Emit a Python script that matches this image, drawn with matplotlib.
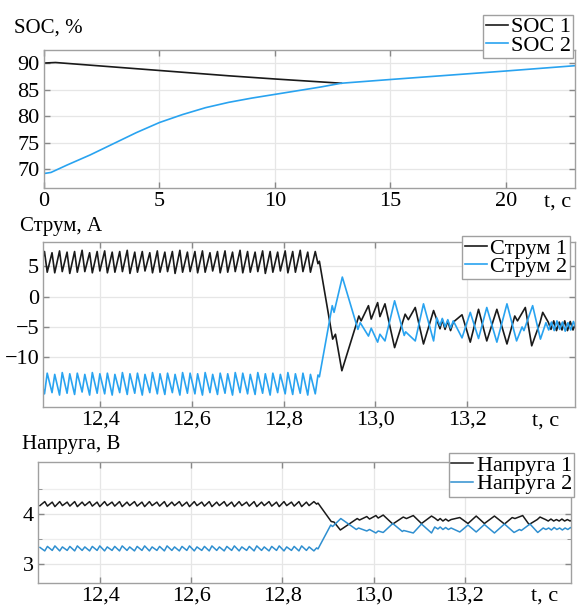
import numpy as np
import matplotlib
matplotlib.use("Agg")
import matplotlib.pyplot as plt
from matplotlib.ticker import FixedLocator, FuncFormatter

plt.rcParams['font.family'] = ['Liberation Serif', 'DejaVu Serif']

BLACK = '#1a1a1a'
BLUE = '#29a3f0'
BLUE_V = '#2f8fd0'

# ---- panel 1: SOC over the whole run ----
soc_t1 = [0.0, 0.5, 2.0, 5.0, 8.0, 10.0, 12.88]
soc_v1 = [90.0, 90.1, 89.6, 88.6, 87.6, 87.0, 86.2]
soc_t2 = [0.0, 0.3, 1.0, 2.0, 3.0, 4.0, 5.0, 6.0, 7.0, 8.0, 9.0, 10.0, 11.0, 12.0,
          12.88, 15.0, 17.5, 20.0, 23.0]
soc_v2 = [69.2, 69.4, 70.8, 72.7, 74.8, 76.9, 78.8, 80.3, 81.6, 82.6, 83.4, 84.1,
          84.8, 85.5, 86.2, 86.9, 87.7, 88.5, 89.5]

# ---- switching vertices of the steady part (shared by panels 2 and 3) ----
t_steady = [12.2681,
            12.2786, 12.2845, 12.2950, 12.3009, 12.3114, 12.3173, 12.3278, 12.3337,
            12.3442, 12.3501, 12.3606, 12.3665, 12.3770, 12.3829, 12.3934, 12.3993,
            12.4098, 12.4157, 12.4262, 12.4321, 12.4426, 12.4485, 12.4590, 12.4649,
            12.4754, 12.4813, 12.4918, 12.4977, 12.5082, 12.5141, 12.5246, 12.5305,
            12.5410, 12.5469, 12.5574, 12.5633, 12.5738, 12.5797, 12.5902, 12.5961,
            12.6066, 12.6125, 12.6230, 12.6289, 12.6394, 12.6453, 12.6558, 12.6617,
            12.6722, 12.6781, 12.6886, 12.6945, 12.7050, 12.7109, 12.7214, 12.7273,
            12.7378, 12.7437, 12.7542, 12.7601, 12.7706, 12.7765, 12.7870, 12.7929,
            12.8034, 12.8093, 12.8198, 12.8257, 12.8362, 12.8421, 12.8526, 12.8585,
            12.8690, 12.8749]

i1_steady = [4.2,
             7.4, 4.0, 7.2, 3.9, 7.5, 4.1, 7.3, 3.8, 7.4, 4.0, 7.6, 4.1, 7.2, 3.9,
             7.4, 4.2, 7.5, 3.9, 7.3, 4.0, 7.4, 4.1, 7.6, 3.8, 7.3, 4.0, 7.4, 4.2,
             7.2, 3.9, 7.5, 4.0, 7.3, 4.1, 7.4, 3.8, 7.6, 4.0, 7.3, 4.1, 7.4, 3.9,
             7.5, 4.0, 7.2, 4.2, 7.4, 3.9, 7.5, 4.0, 7.3, 4.1, 7.6, 3.9, 7.4, 4.0,
             7.3, 4.1, 7.5, 3.8, 7.4, 4.0, 7.3, 4.2, 7.5, 3.9, 7.4, 4.0, 7.6, 4.1,
             7.3, 4.0, 7.4, 5.4]
i2_steady = [-12.9,
             -16.0, -12.6, -15.8, -12.8, -16.2, -12.5, -15.9, -12.7, -16.1, -12.6,
             -15.7, -12.8, -16.2, -12.5, -15.9, -12.7, -16.0, -12.6, -16.2, -12.8,
             -15.8, -12.5, -16.1, -12.7, -15.9, -12.6, -16.2, -12.8, -15.8, -12.5,
             -16.0, -12.7, -16.1, -12.6, -15.8, -12.8, -16.2, -12.5, -15.9, -12.6,
             -16.0, -12.7, -16.2, -12.5, -15.8, -12.8, -16.1, -12.6, -15.9, -12.7,
             -16.2, -12.5, -15.8, -12.6, -16.0, -12.8, -16.1, -12.5, -15.9, -12.7,
             -16.2, -12.6, -15.8, -12.8, -16.0, -12.5, -16.1, -12.7, -15.9, -12.6,
             -16.2, -12.8, -16.0, -12.9]
u1_steady = [4.17,
             4.25, 4.16, 4.24, 4.15, 4.25, 4.17, 4.24, 4.16, 4.25, 4.15, 4.24, 4.17,
             4.25, 4.16, 4.24, 4.15, 4.25, 4.17, 4.24, 4.16, 4.25, 4.15, 4.24, 4.17,
             4.25, 4.16, 4.24, 4.15, 4.25, 4.17, 4.24, 4.16, 4.25, 4.15, 4.24, 4.17,
             4.25, 4.16, 4.24, 4.15, 4.25, 4.17, 4.24, 4.16, 4.25, 4.15, 4.24, 4.17,
             4.25, 4.16, 4.24, 4.15, 4.25, 4.17, 4.24, 4.16, 4.25, 4.15, 4.24, 4.17,
             4.25, 4.16, 4.24, 4.15, 4.25, 4.17, 4.24, 4.16, 4.25, 4.15, 4.24, 4.17,
             4.25, 4.20]
u2_steady = [3.33,
             3.26, 3.35, 3.27, 3.36, 3.26, 3.34, 3.27, 3.35, 3.26, 3.36, 3.27, 3.34,
             3.26, 3.35, 3.27, 3.36, 3.26, 3.34, 3.27, 3.35, 3.26, 3.36, 3.27, 3.34,
             3.26, 3.35, 3.27, 3.36, 3.26, 3.34, 3.27, 3.35, 3.26, 3.36, 3.27, 3.34,
             3.26, 3.35, 3.27, 3.36, 3.26, 3.34, 3.27, 3.35, 3.26, 3.36, 3.27, 3.34,
             3.26, 3.35, 3.27, 3.36, 3.26, 3.34, 3.27, 3.35, 3.26, 3.36, 3.27, 3.34,
             3.26, 3.35, 3.27, 3.36, 3.26, 3.34, 3.27, 3.35, 3.26, 3.36, 3.27, 3.34,
             3.26, 3.32]

# ---- transient after the switch-over: battery 1 ----
t_trans1 = [12.8780, 12.9070, 12.9130, 12.9270, 12.9640, 12.9690, 12.9850, 12.9910,
            13.0050, 13.0100, 13.0210, 13.0420, 13.0650, 13.0720, 13.0870, 13.1050,
            13.1270, 13.1340, 13.1410, 13.1460, 13.1520, 13.1580, 13.1640, 13.1700,
            13.1890, 13.2070, 13.2250, 13.2430, 13.2650, 13.2870, 13.3040, 13.3100,
            13.3270, 13.3410, 13.3590, 13.3650, 13.3770, 13.3830, 13.3890, 13.3950,
            13.4010, 13.4070, 13.4130, 13.4190, 13.4250, 13.4310, 13.4370]
i1_trans = [5.8, -7.0, -6.2, -12.2, -3.2, -4.0, -1.5, -3.7,
            -1.0, -3.3, -1.2, -8.4, -2.9, -3.8, -1.8, -7.8,
            -2.3, -3.8, -5.3, -3.8, -5.4, -4.0, -5.6, -4.2,
            -3.0, -7.5, -2.1, -7.3, -2.1, -7.8, -3.2, -4.0,
            -1.8, -8.1, -4.3, -2.6, -4.2, -5.4, -4.0, -5.6,
            -4.2, -5.5, -4.0, -5.6, -4.1, -5.5, -4.3]
u1_trans = [4.22, 3.85, 3.84, 3.68, 3.91, 3.88, 3.95, 3.90,
            3.97, 3.92, 3.98, 3.80, 3.94, 3.91, 3.97, 3.81,
            3.96, 3.92, 3.87, 3.91, 3.86, 3.90, 3.86, 3.89,
            3.93, 3.81, 3.96, 3.81, 3.96, 3.80, 3.93, 3.91,
            3.97, 3.79, 3.89, 3.94, 3.89, 3.86, 3.90, 3.86,
            3.89, 3.86, 3.90, 3.86, 3.89, 3.86, 3.89]

# ---- transient after the switch-over: battery 2 ----
t_trans2 = [12.8780, 12.9060, 12.9100, 12.9280, 12.9620, 12.9670, 12.9850, 12.9910,
            13.0050, 13.0100, 13.0210, 13.0420, 13.0630, 13.0660, 13.0870, 13.1050,
            13.1270, 13.1340, 13.1410, 13.1460, 13.1520, 13.1580, 13.1640, 13.1700,
            13.1890, 13.2070, 13.2250, 13.2430, 13.2650, 13.2870, 13.3080, 13.3200,
            13.3240, 13.3430, 13.3600, 13.3720, 13.3780, 13.3840, 13.3900, 13.3960,
            13.4020, 13.4080, 13.4140, 13.4200, 13.4260, 13.4320, 13.4380]
i2_trans = [-13.2, -1.5, -2.6, 3.2, -5.4, -4.3, -6.5, -5.2,
            -7.5, -6.2, -7.3, -0.7, -6.4, -5.8, -7.3, -1.2,
            -7.3, -3.5, -4.8, -3.6, -5.0, -3.8, -5.2, -4.0,
            -6.8, -2.6, -6.9, -1.8, -7.5, -1.2, -7.3, -5.0,
            -5.6, -1.5, -7.0, -4.3, -5.5, -4.2, -5.6, -4.0,
            -5.4, -4.2, -5.7, -4.3, -5.5, -4.1, -5.3]
u2_trans = [3.30, 3.78, 3.75, 3.91, 3.69, 3.72, 3.66, 3.69,
            3.62, 3.66, 3.63, 3.81, 3.65, 3.67, 3.62, 3.80,
            3.62, 3.74, 3.70, 3.74, 3.69, 3.73, 3.69, 3.72,
            3.64, 3.78, 3.64, 3.79, 3.62, 3.80, 3.63, 3.69,
            3.67, 3.80, 3.63, 3.72, 3.69, 3.72, 3.68, 3.73,
            3.69, 3.72, 3.68, 3.72, 3.69, 3.73, 3.69]

zoom_ticks = [12.4, 12.6, 12.8, 13.0, 13.2]


def comma(x, pos):
    return ('%.1f' % x).replace('.', ',')


def style_axes(ax):
    ax.grid(True, color='#e6e6e6', linewidth=0.9)
    ax.set_axisbelow(True)
    for s in ax.spines.values():
        s.set_color('#a0a0a0')
        s.set_linewidth(1.0)
    ax.tick_params(direction='in', length=4, width=1, color='#888888',
                   top=True, right=True, labelsize=16, pad=3)


def add_legend(ax, bbox):
    leg = ax.legend(loc='upper right', bbox_to_anchor=bbox, fontsize=16,
                    handlelength=1.0, handletextpad=0.15, borderpad=0.1,
                    labelspacing=-0.1, borderaxespad=0.0, fancybox=False,
                    framealpha=1.0)
    leg.get_frame().set_edgecolor('#a0a0a0')
    leg.get_frame().set_linewidth(1.0)


fig = plt.figure(figsize=(5.79, 6.06), dpi=100)

# panel 1
ax1 = fig.add_axes([0.076, 0.690, 0.917, 0.227])
ax1.plot(soc_t1, soc_v1, color=BLACK, lw=1.2, label='SOC 1')
ax1.plot(soc_t2, soc_v2, color=BLUE, lw=1.2, label='SOC 2')
ax1.set_xlim(0, 23)
ax1.set_ylim(66.5, 92.4)
ax1.set_xticks([0, 5, 10, 15, 20])
ax1.set_yticks([70, 75, 80, 85, 90])
style_axes(ax1)
ax1.text(0.967, -0.035, 't, c', transform=ax1.transAxes, fontsize=16,
         ha='center', va='top')
add_legend(ax1, (0.997, 1.26))
fig.text(14 / 579, 1 - 28 / 606, 'SOC, %', fontsize=15, va='center')

# panel 2
ax2 = fig.add_axes([0.0748, 0.329, 0.918, 0.271])
ax2.plot(t_steady + t_trans1, i1_steady + i1_trans, color=BLACK, lw=1.2,
         label='Струм 1')
ax2.plot(t_steady + t_trans2, i2_steady + i2_trans, color=BLUE, lw=1.2,
         label='Струм 2')
ax2.set_xlim(12.276, 13.435)
ax2.set_ylim(-18.1, 8.9)
ax2.set_xticks(zoom_ticks)
ax2.xaxis.set_major_formatter(FuncFormatter(comma))
ax2.set_yticks([-10, -5, 0, 5])
style_axes(ax2)
ax2.text(0.945, -0.03, 't, c', transform=ax2.transAxes, fontsize=16,
         ha='center', va='top')
add_legend(ax2, (0.99, 1.04))
fig.text(20 / 579, 1 - 226 / 606, 'Струм, А', fontsize=15, va='center')

# panel 3
ax3 = fig.add_axes([0.065, 0.0375, 0.922, 0.2005])
ax3.plot(t_steady + t_trans1, u1_steady + u1_trans, color=BLACK, lw=1.1,
         label='Напруга 1')
ax3.plot(t_steady + t_trans2, u2_steady + u2_trans, color=BLUE_V, lw=1.1,
         label='Напруга 2')
ax3.set_xlim(12.263, 13.434)
ax3.set_ylim(2.61, 5.05)
ax3.set_xticks(zoom_ticks)
ax3.xaxis.set_major_formatter(FuncFormatter(comma))
ax3.set_yticks([3, 4])
ax3.yaxis.set_minor_locator(FixedLocator([3.5, 4.5]))
style_axes(ax3)
ax3.tick_params(axis='x', pad=2)
ax3.tick_params(which='minor', direction='in', length=3, color='#888888',
                right=True)
ax3.grid(True, which='minor', axis='y', color='#eeeeee', linewidth=0.9)
ax3.text(0.95, -0.03, 't, c', transform=ax3.transAxes, fontsize=16,
         ha='center', va='top')
add_legend(ax3, (1.005, 1.07))
fig.text(22 / 579, 1 - 445 / 606, 'Напруга, В', fontsize=15, va='center')

fig.savefig('out.png', dpi=100)
